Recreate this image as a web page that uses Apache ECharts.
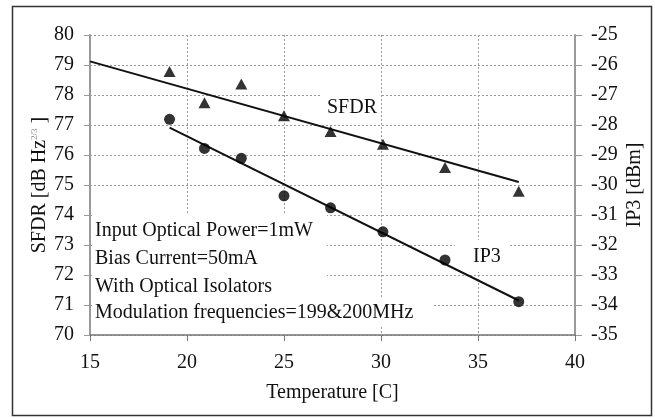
<!DOCTYPE html>
<html>
<head>
<meta charset="utf-8">
<script src="https://cdn.jsdelivr.net/npm/echarts@6/dist/echarts.min.js"></script>
<style>
html,body{margin:0;padding:0;background:#fff;}
#chart{width:655px;height:418px;}
</style>
</head>
<body>
<div id="chart"></div>
<script>
// Data
const temps = [19.1, 20.9, 22.8, 25.0, 27.4, 30.1, 33.3, 37.1];
const sfdr = [78.78, 77.74, 78.37, 77.31, 76.78, 76.36, 75.58, 74.79];
const ip3 = [-27.81, -28.78, -29.11, -30.36, -30.76, -31.56, -32.5, -33.89];
const sfdrFitX = [15, 37.1];
const sfdrFitY = [79.12, 75.1];
const ip3FitX = [19.1, 37.1];
const ip3FitY = [-28.09, -33.85];
const xTicks = [15, 20, 25, 30, 35, 40];
const annotation = ['Input Optical Power=1mW', 'Bias Current=50mA', 'With Optical Isolators', 'Modulation frequencies=199&200MHz'];

const FONT = 'Liberation Serif';
const TXT = '#111';
const chart = echarts.init(document.getElementById('chart'), null, {renderer: 'canvas'});
const zip = (a, b) => a.map((v, i) => [v, b[i]]);
const grid = {left: 90, right: 80, top: 35, bottom: 83};
const gridLine = {show: true, lineStyle: {color: '#9a9a9a', type: [2, 2], width: 1}};
const lbl = {color: TXT, fontFamily: FONT, fontSize: 20};

const annY = [231, 259, 287, 313];
const graphic = [
  {type: 'rect', z: 1, shape: {x: 12.5, y: 6.5, width: 639, height: 409}, style: {fill: 'none', stroke: '#333', lineWidth: 1.5}},
  {type: 'rect', z: 1, shape: {x: 92, y: 213, width: 235, height: 121}, style: {fill: '#fff'}},
  {type: 'rect', z: 1, shape: {x: 92, y: 299, width: 340, height: 28}, style: {fill: '#fff'}},
  {type: 'rect', z: 1, shape: {x: 321, y: 92, width: 60, height: 29}, style: {fill: '#fff'}},
  {type: 'rect', z: 1, shape: {x: 455, y: 240, width: 53, height: 32}, style: {fill: '#fff'}},
  {type: 'text', z: 3, x: 327, y: 108, style: {text: 'SFDR', font: '20px "Liberation Serif"', fill: TXT, textVerticalAlign: 'middle'}},
  {type: 'text', z: 3, x: 473, y: 257, style: {text: 'IP3', font: '20px "Liberation Serif"', fill: TXT, textVerticalAlign: 'middle'}}
];
annotation.forEach((t, i) => graphic.push({type: 'text', z: 3, x: 95, y: annY[i], style: {text: t, font: '20px "Liberation Serif"', fill: TXT, textVerticalAlign: 'middle'}}));

chart.setOption({
  animation: false,
  backgroundColor: '#fff',
  grid: grid,
  graphic: graphic,
  xAxis: {
    type: 'value', min: xTicks[0], max: xTicks[xTicks.length - 1], interval: 5,
    name: 'Temperature [C]', nameLocation: 'middle', nameGap: 48,
    nameTextStyle: lbl,
    axisLine: {show: true, lineStyle: {color: '#777', width: 1.5}},
    axisTick: {show: true, length: 6, lineStyle: {color: '#777'}},
    axisLabel: Object.assign({margin: 18}, lbl),
    splitLine: gridLine
  },
  yAxis: [
    {
      type: 'value', min: 70, max: 80, interval: 1, position: 'left',
      name: '{a|SFDR [dB Hz}{s|2/3}{a| ]}', nameLocation: 'middle', nameGap: 40, nameRotate: 90,
      nameMoveOverlap: false,
      nameTextStyle: {rich: {a: {fontFamily: FONT, fontSize: 20, color: TXT}, s: {fontFamily: FONT, fontSize: 9, color: '#888', verticalAlign: 'top'}}},
      axisLine: {show: true, lineStyle: {color: '#9a9a9a', width: 2}},
      axisTick: {show: true, length: 6, lineStyle: {color: '#9a9a9a'}},
      axisLabel: Object.assign({margin: 16}, lbl),
      splitLine: gridLine
    },
    {
      type: 'value', min: -35, max: -25, interval: 1, position: 'right',
      name: 'IP3 [dBm]', nameLocation: 'middle', nameGap: 50, nameRotate: 90,
      nameMoveOverlap: false,
      nameTextStyle: lbl,
      axisLine: {show: true, lineStyle: {color: '#9a9a9a', width: 2}},
      axisTick: {show: true, length: 7, lineStyle: {color: '#9a9a9a'}},
      axisLabel: Object.assign({margin: 16}, lbl),
      splitLine: {show: false}
    }
  ],
  series: [
    {type: 'line', yAxisIndex: 0, data: zip(sfdrFitX, sfdrFitY), showSymbol: false, lineStyle: {color: '#111', width: 2}, z: 2},
    {type: 'line', yAxisIndex: 1, data: zip(ip3FitX, ip3FitY), showSymbol: false, lineStyle: {color: '#111', width: 2}, z: 2},
    {type: 'scatter', yAxisIndex: 0, data: zip(temps, sfdr), symbol: 'triangle', symbolSize: [12, 11], itemStyle: {color: '#000'}, z: 4},
    {type: 'scatter', yAxisIndex: 1, data: zip(temps, ip3), symbol: 'circle', symbolSize: 11, itemStyle: {color: '#000'}, z: 4}
  ]
});
</script>
</body>
</html>
